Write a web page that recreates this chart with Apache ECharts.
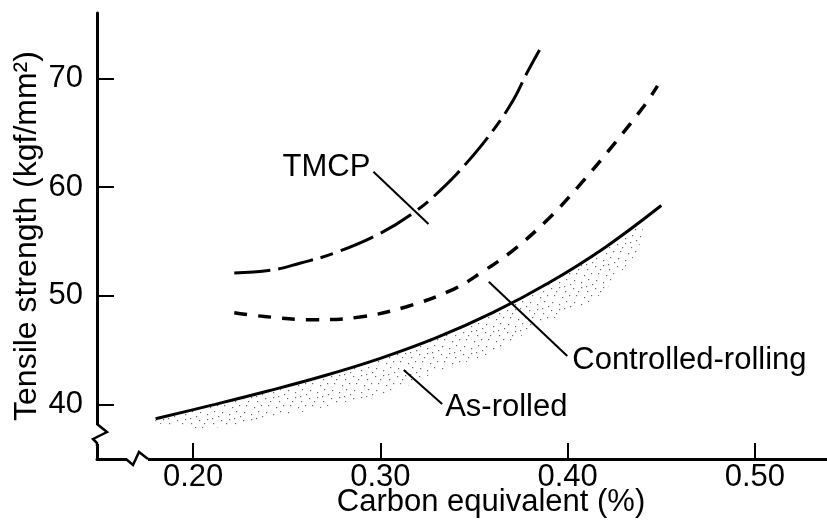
<!DOCTYPE html>
<html>
<head>
<meta charset="utf-8">
<script src="https://cdn.jsdelivr.net/npm/echarts@6/dist/echarts.min.js"></script>
<style>
html,body{margin:0;padding:0;background:#fff;}
#chart{width:827px;height:520px;}
</style>
</head>
<body>
<div id="chart"></div>
<script>
// ---- data (carbon equivalent %, tensile strength kgf/mm2) ----
const ceTMCP = [0.222, 0.243, 0.257, 0.275, 0.300, 0.319, 0.332, 0.346, 0.361, 0.371, 0.378, 0.385];
const tsTMCP = [52.1, 52.4, 53.0, 53.9, 55.75, 57.8, 59.7, 62.2, 65.4, 68.0, 70.4, 72.6];

const ceCR = [0.222, 0.238, 0.264, 0.289, 0.314, 0.339, 0.3535, 0.371, 0.391, 0.408, 0.425, 0.441, 0.448];
const tsCR = [48.45, 48.1, 47.8, 48.05, 49.0, 50.6, 52.1, 54.2, 57.3, 60.5, 64.0, 67.5, 69.3];

const ceAR = [0.18, 0.21, 0.24, 0.27, 0.30, 0.33, 0.36, 0.39, 0.42, 0.45];
const tsAR = [38.7, 39.95, 41.25, 42.65, 44.25, 46.15, 48.45, 51.2, 54.45, 58.3];

// stippled scatter band under the as-rolled curve
const ceBandTop = [0.18, 0.21, 0.24, 0.27, 0.30, 0.33, 0.36, 0.39, 0.42, 0.44];
const tsBandTop = [38.6, 39.85, 41.15, 42.55, 44.15, 46.05, 48.35, 51.1, 54.3, 57.0];
const ceBandLow = [0.180, 0.207, 0.250, 0.280, 0.310, 0.330, 0.360, 0.386, 0.416, 0.437, 0.440];
const tsBandLow = [38.3, 37.8, 39.0, 40.2, 41.4, 43.0, 44.8, 47.4, 49.9, 54.0, 56.0];

// annotation labels and leader lines
const labelText = ['TMCP', 'Controlled-rolling', 'As-rolled'];
const leaderStartCE = [0.2963, 0.3998, 0.3330];
const leaderStartTS = [61.4, 44.47, 40.06];
const leaderEndCE = [0.3257, 0.3579, 0.3125];
const leaderEndTS = [56.6, 51.3, 43.18];

const xTicks = [0.20, 0.30, 0.40, 0.50];
const yTicks = [40, 50, 60, 70];

const FONT = "'Liberation Sans', Arial, Helvetica, sans-serif";
const FS = 31;

// stipple texture tile
const tile = document.createElement('canvas');
tile.width = 22; tile.height = 22;
const tctx = tile.getContext('2d');
tctx.fillStyle = 'rgba(0,0,0,0.6)';
const dots = [[1,2],[9,1],[15,5],[4,9],[12,11],[19,9],[2,16],[9,18],[16,15],[20,20],[6,5],[14,0]];
dots.forEach(d => tctx.fillRect(d[0], d[1], 1.2, 1.2));

const chart = echarts.init(document.getElementById('chart'), null, {renderer: 'canvas'});

const pairs = (xs, ys) => xs.map((x, i) => [x, ys[i]]);

// text placement relative to leader start: [align, dx, dy]
const labelPlacement = [['right', -3, -4], ['left', 5, 4], ['left', 3, 3]];

const option = {
  backgroundColor: '#fff',
  animation: false,
  textStyle: {fontFamily: FONT},
  grid: {left: 97, right: 0, top: 13, bottom: 61, outerBoundsMode: 'none'},
  xAxis: {
    type: 'value',
    min: 0.1487, max: 0.5385,
    name: 'Carbon equivalent (%)',
    nameLocation: 'middle',
    nameGap: 28,
    nameMoveOverlap: false,
    nameTextStyle: {fontFamily: FONT, fontSize: FS, color: '#000', padding: [0, 0, 0, 58]},
    axisLine: {onZero: false, lineStyle: {color: '#000', width: 3}},
    axisTick: {inside: true, length: 16, lineStyle: {color: '#000', width: 2}, customValues: xTicks},
    axisLabel: {customValues: xTicks, margin: 3, fontFamily: FONT, fontSize: FS, color: '#000',
      formatter: v => v.toFixed(2)},
    splitLine: {show: false}
  },
  yAxis: {
    type: 'value',
    min: 35, max: 76,
    name: 'Tensile strength (kgf/mm²)',
    nameLocation: 'middle',
    nameGap: 54,
    nameRotate: 90,
    nameMoveOverlap: false,
    nameTextStyle: {fontFamily: FONT, fontSize: 32, color: '#000'},
    axisLine: {onZero: false, lineStyle: {color: '#000', width: 3}},
    axisTick: {inside: true, length: 17, lineStyle: {color: '#000', width: 2}, customValues: yTicks},
    axisLabel: {customValues: yTicks, margin: 14, fontFamily: FONT, fontSize: FS, color: '#000'},
    splitLine: {show: false}
  },
  series: [
    {
      type: 'custom',
      name: 'band',
      data: pairs(ceBandLow, tsBandLow),
      encode: {x: 0, y: 1},
      z: 1,
      renderItem: function (params, api) {
        if (params.dataIndex !== 0) return null;
        const pts = [];
        for (let i = 0; i < ceBandTop.length; i++) pts.push(api.coord([ceBandTop[i], tsBandTop[i]]));
        for (let i = ceBandLow.length - 1; i >= 0; i--) pts.push(api.coord([ceBandLow[i], tsBandLow[i]]));
        return {
          type: 'polygon',
          shape: {points: pts, smooth: 0.2},
          style: {fill: {type: 'pattern', image: tile, repeat: 'repeat'}, stroke: null}
        };
      }
    },
    {
      type: 'line', name: 'TMCP', data: pairs(ceTMCP, tsTMCP), smooth: 0.4,
      showSymbol: false, z: 3,
      lineStyle: {color: '#000', width: 3, type: [36, 8, 36, 8, 13, 8]}
    },
    {
      type: 'line', name: 'Controlled-rolling', data: pairs(ceCR, tsCR), smooth: 0.4,
      showSymbol: false, z: 3,
      lineStyle: {color: '#000', width: 3.5, type: [13, 11]}
    },
    {
      type: 'line', name: 'As-rolled', data: pairs(ceAR, tsAR), smooth: 0.4,
      showSymbol: false, z: 3,
      lineStyle: {color: '#000', width: 3, type: 'solid'}
    }
  ].concat(labelText.map((t, i) => ({
    type: 'line', name: 'leader-' + i, showSymbol: false, z: 4,
    data: [[leaderStartCE[i], leaderStartTS[i]], [leaderEndCE[i], leaderEndTS[i]]],
    lineStyle: {color: '#000', width: 2}
  }))).concat([{
    type: 'custom', name: 'labels', z: 5,
    data: labelText.map((t, i) => [leaderStartCE[i], leaderStartTS[i]]),
    encode: {x: 0, y: 1},
    renderItem: function (params, api) {
      const i = params.dataIndex;
      const p = api.coord([api.value(0), api.value(1)]);
      const pl = labelPlacement[i];
      return {
        type: 'text',
        x: p[0] + pl[1], y: p[1] + pl[2],
        style: {
          text: labelText[i], fill: '#000',
          font: FS + 'px ' + FONT,
          align: pl[0], verticalAlign: 'middle'
        }
      };
    }
  }]),
  graphic: [
    {type: 'rect', z: 100, shape: {x: 92, y: 425, width: 10, height: 19}, style: {fill: '#fff'}},
    {type: 'polyline', z: 101, shape: {points: [[97, 424], [107, 432], [93, 439], [97, 443], [97, 446]]},
      style: {stroke: '#000', lineWidth: 2.5, fill: null}},
    {type: 'rect', z: 100, shape: {x: 127, y: 455, width: 21, height: 8}, style: {fill: '#fff'}},
    {type: 'polyline', z: 101, shape: {points: [[126, 459], [133, 465], [139, 452], [148, 459]]},
      style: {stroke: '#000', lineWidth: 2.5, fill: null}}
  ]
};

chart.setOption(option);
</script>
</body>
</html>
